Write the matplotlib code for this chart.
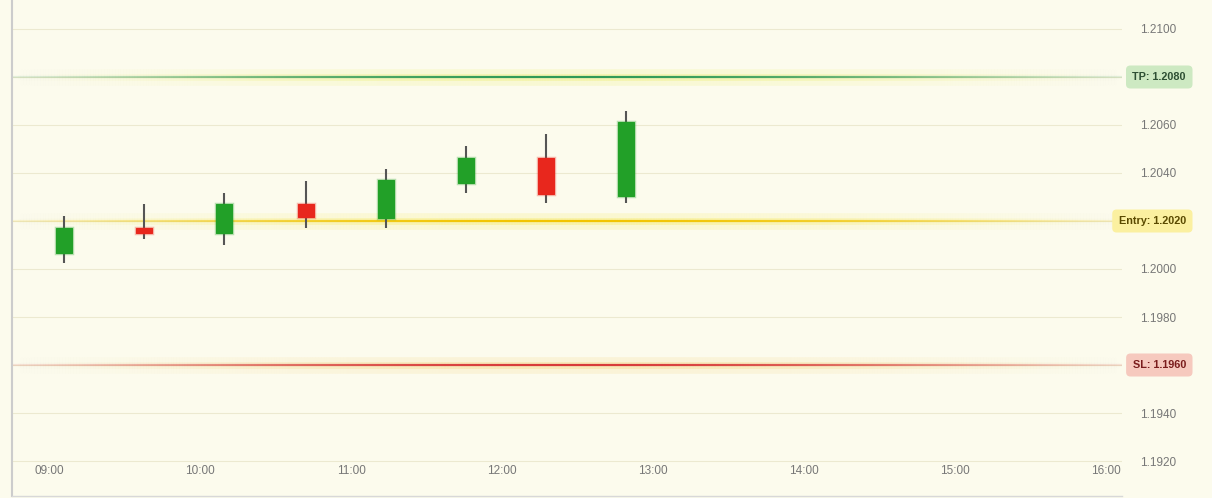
import numpy as np
import matplotlib
matplotlib.use("Agg")
import matplotlib.pyplot as plt
import matplotlib.transforms as mtransforms
from matplotlib.collections import LineCollection
from matplotlib.colors import to_rgb

plt.rcParams['font.family'] = ['Liberation Sans', 'DejaVu Sans']

# candle data (time in hours)
times = [9.10, 9.63, 10.16, 10.70, 11.23, 11.76, 12.29, 12.82]
opens = [1.20067, 1.20171, 1.20150, 1.20271, 1.20213, 1.20358, 1.20463, 1.20304]
closes = [1.20171, 1.20150, 1.20271, 1.20217, 1.20371, 1.20463, 1.20313, 1.20613]
highs = [1.20221, 1.20271, 1.20317, 1.20367, 1.20417, 1.20513, 1.20563, 1.20658]
lows = [1.20025, 1.20125, 1.20100, 1.20171, 1.20171, 1.20317, 1.20275, 1.20275]

# trade levels
level_names = ["TP", "Entry", "SL"]
level_values = [1.2080, 1.2020, 1.1960]
level_colors = ["#2f9a58", "#f2c400", "#d83a3a"]
glow_colors = ["#eef07a", "#f7ec6a", "#f5d88a"]
box_colors = ["#cde9c2", "#fbf0a0", "#f6c9be"]
text_colors = ["#2d4f33", "#5a4a00", "#7a1c1c"]

hour_ticks = [9, 10, 11, 12, 13, 14, 15, 16]
hour_labels = ["09:00", "10:00", "11:00", "12:00", "13:00", "14:00", "15:00", "16:00"]
price_ticks = [1.1920, 1.1940, 1.1960, 1.1980, 1.2000, 1.2020, 1.2040, 1.2060, 1.2080, 1.2100]

fig = plt.figure(figsize=(12.12, 4.98), dpi=100)
fig.patch.set_facecolor("#fcfbed")
ax = fig.add_axes([12 / 1212, 2 / 498, 1110 / 1212, 496 / 498])
ax.set_facecolor("#fcfbed")

x0, x1 = 8.755, 16.106
ax.set_xlim(x0, x1)
ax.set_ylim(1.2020 - 275 / 24000, 1.2020 + 221 / 24000)

# grid
for p in price_ticks:
    ax.axhline(p, color="#ece9d0", lw=0.8, zorder=0)

# level lines with fading ends and glow
xs = np.linspace(x0, x1, 400)
t = (xs - x0) / (x1 - x0)
fade = np.clip(np.sin(np.pi * t), 0, 1) ** 1.2
for val, col, gcol in zip(level_values, level_colors, glow_colors):
    pts = np.column_stack([xs, np.full_like(xs, val)])
    segs = np.stack([pts[:-1], pts[1:]], axis=1)
    a = fade[:-1]
    g = np.array([(*to_rgb(gcol), 0.22 * ai) for ai in a])
    ax.add_collection(LineCollection(segs, colors=g, linewidths=12, zorder=1))
    g2 = np.array([(*to_rgb(gcol), 0.4 * ai) for ai in a])
    ax.add_collection(LineCollection(segs, colors=g2, linewidths=5, zorder=1))
    c = np.array([(*to_rgb(col), 0.12 + 0.88 * ai) for ai in a])
    ax.add_collection(LineCollection(segs, colors=c, linewidths=1.6, zorder=2))

# candles
width = 0.106
for tm, o, c, h, l in zip(times, opens, closes, highs, lows):
    col = "#22a028" if c >= o else "#e8271d"
    ax.vlines(tm, l, h, color="#555555", lw=1.5, zorder=3)
    ax.bar(tm, abs(c - o), width=width, bottom=min(o, c), color=col,
           edgecolor=col, linewidth=2.5, alpha=0.3, zorder=4)
    ax.bar(tm, abs(c - o), width=width, bottom=min(o, c), color=col,
           edgecolor=col, linewidth=0.8, zorder=5)

# level labels
trans = mtransforms.blended_transform_factory(fig.transFigure, ax.transData)
for name, val, bc, tc in zip(level_names, level_values, box_colors, text_colors):
    ax.text(1186 / 1212, val, f"{name}: {val:.4f}", transform=trans, ha="right",
            va="center", fontsize=7.8, fontweight="bold", color=tc, clip_on=False,
            zorder=6, bbox=dict(boxstyle="round,pad=0.6,rounding_size=0.4",
                                fc=bc, ec="none"))

# tick labels hidden behind the level boxes are left blank
ax.set_xticks(hour_ticks)
ax.set_xticklabels(hour_labels)
ax.set_yticks(price_ticks)
ax.set_yticklabels(["" if p in level_values else f"{p:.4f}" for p in price_ticks])
ax.yaxis.tick_right()
ax.tick_params(axis="x", length=0, pad=-22, labelsize=8.5, labelcolor="#777777")
ax.tick_params(axis="y", length=0, pad=13, labelsize=8.5, labelcolor="#777777")

for s in ["top", "right"]:
    ax.spines[s].set_visible(False)
ax.spines["left"].set_color("#cccccc")
ax.spines["left"].set_linewidth(1.5)
ax.spines["bottom"].set_color("#d8d8d8")
ax.spines["bottom"].set_linewidth(1.0)

fig.savefig("out.png", dpi=100, facecolor=fig.get_facecolor())
